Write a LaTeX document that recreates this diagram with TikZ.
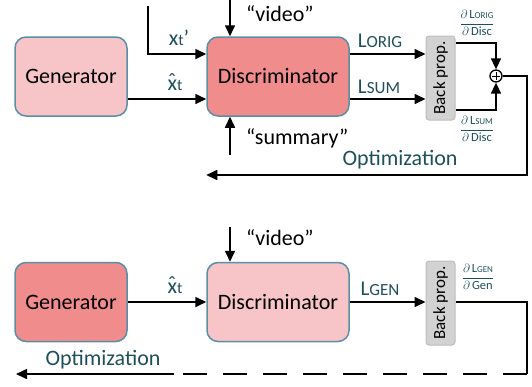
\documentclass[tikz,border=0pt]{standalone}
\usepackage{fontspec}
\setmainfont{Carlito}
\usetikzlibrary{arrows.meta}
\definecolor{boxedge}{HTML}{5B8FA6}
\definecolor{darkpink}{HTML}{F08C8C}
\definecolor{lightpink}{HTML}{F7C4C7}
\definecolor{bpfill}{HTML}{D2D2D2}
\definecolor{bpedge}{HTML}{BDBDBD}
\definecolor{labteal}{HTML}{1E4F5C}
\newcommand{\lossname}[1]{L{\fontsize{17}{18}\selectfont #1}}
\newcommand{\gradfrac}[2]{$\displaystyle\frac{\partial\,\mbox{\fontsize{12.5}{13}\selectfont L{\fontsize{9}{9}\selectfont #1}}}{\partial\,\mbox{\fontsize{12.5}{13}\selectfont #2}}$}
\newcommand{\xsub}[1]{#1{\fontsize{16}{17}\selectfont t}}
\newcommand{\xhat}{\ooalign{x\cr\hidewidth\raisebox{1.5pt}{ˆ}\hidewidth\cr}}

\begin{document}
\begin{tikzpicture}
  [x=1pt,y=-1pt,
   block/.style={draw=boxedge,line width=1.5pt,rounded corners=11pt,
     minimum width=112pt,minimum height=79pt,font=\fontsize{22}{24}\selectfont},
   bprop/.style={draw=bpedge,fill=bpfill,line width=1pt,rounded corners=3pt,
     minimum width=29pt,minimum height=84pt,inner sep=0pt,
     font=\fontsize{17}{18}\selectfont},
   lab/.style={text=labteal,inner sep=1pt,font=\fontsize{22}{24}\selectfont},
   quote/.style={inner sep=1pt,font=\fontsize{22}{24}\selectfont},
   frac/.style={text=labteal,inner sep=0pt,font=\fontsize{12}{13}\selectfont},
   arr/.style={line width=1.6pt,-{Triangle[length=11pt,width=10pt]}},
   wire/.style={line width=1.6pt}]
  \useasboundingbox (0,0) rectangle (532,386);

  \node[block,fill=lightpink] (gen1) at (71,76.5) {Generator};
  \node[block,fill=darkpink,minimum width=142pt] (disc1) at (278,76.5) {Discriminator};
  \node[bprop] (bp1) at (440.5,78) {\rotatebox{90}{Back prop.}};
  \node[circle,draw,line width=1.3pt,minimum size=12pt,inner sep=0pt,
    path picture={\draw[line width=1pt] (path picture bounding box.center)
      +(-3.6pt,0pt) -- +(3.6pt,0pt) +(0pt,-3.6pt) -- +(0pt,3.6pt);}] (sum) at (496,76) {};

  \coordinate (xin) at (148,6);
  \coordinate (vid1) at (230,0);
  \coordinate (summ1) at (230,155);
  \coordinate (turn1) at (527,175);

  \node[lab] (xt) at (179,38) {\xsub{x}’};
  \node[lab] (xhat1) at (175,85) {\xsub{\xhat}};
  \node[quote,anchor=west] (vidtxt1) at (245,14) {“video”};
  \node[quote,anchor=west] (sumtxt) at (245,138) {“summary”};
  \node[lab,font=\fontsize{21}{22}\selectfont] (lorig) at (380,41) {\lossname{ORIG}};
  \node[lab,font=\fontsize{21}{22}\selectfont] (lsum) at (379,87) {\lossname{SUM}};
  \node[frac] (frac1) at (477,23) {\gradfrac{ORIG}{Disc}};
  \node[frac] (frac2) at (477,129) {\gradfrac{SUM}{Disc}};
  \node[lab] (optlab1) at (400,160) {Optimization};

  \draw[arr] (xin) |- (disc1.west |- 0,54);
  \draw[arr] (gen1.east |- 0,99) -- (disc1.west |- 0,99);
  \draw[arr] (vid1) -- (vid1 |- disc1.north);
  \draw[arr] (summ1) -- (summ1 |- disc1.south);
  \draw[arr] (disc1.east |- 0,54) -- (bp1.west |- 0,54);
  \draw[arr] (disc1.east |- 0,99) -- (bp1.west |- 0,99);
  \draw[arr] (bp1.east |- 0,43) -| (sum.north);
  \draw[arr] (bp1.east |- 0,110) -| (sum.south);
  \draw[arr] (sum.east) -| (turn1) -- (turn1 -| disc1.west);

  \node[block,fill=darkpink] (gen2) at (71,302) {Generator};
  \node[block,fill=lightpink,minimum width=142pt] (disc2) at (278,302) {Discriminator};
  \node[bprop] (bp2) at (440.5,303) {\rotatebox{90}{Back prop.}};

  \coordinate (vid2) at (230,227);
  \coordinate (turn2) at (527,374);
  \coordinate (dashend) at (174,374);
  \coordinate (optend) at (16,374);

  \node[lab] (xhat2) at (175,288) {\xsub{\xhat}};
  \node[quote,anchor=west] (vidtxt2) at (245,238) {“video”};
  \node[lab,font=\fontsize{21}{22}\selectfont] (lgen) at (380,289) {\lossname{GEN}};
  \node[frac] (frac3) at (478,277) {\gradfrac{GEN}{Gen}};
  \node[lab] (optlab2) at (103,360) {Optimization};

  \draw[arr] (gen2) -- (disc2);
  \draw[arr] (vid2) -- (vid2 |- disc2.north);
  \draw[arr] (disc2.east) -- (bp2.west |- disc2.east);
  \draw[wire] (bp2.east |- disc2.east) -| (turn2);
  \draw[wire,dash pattern=on 24pt off 16pt] (turn2) -- (dashend);
  \draw[arr] (dashend) -- (optend);

\end{tikzpicture}
\end{document}
